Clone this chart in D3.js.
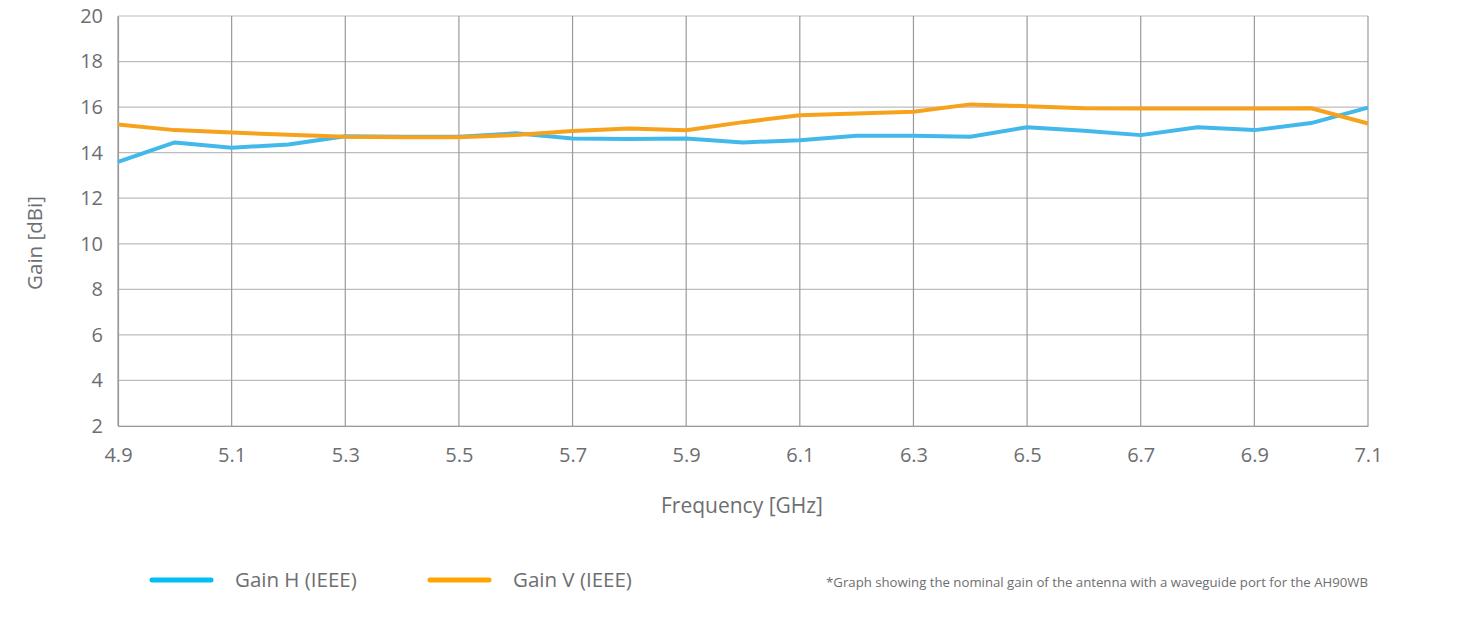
<!DOCTYPE html>
<html><head><meta charset="utf-8">
<script src="https://cdn.jsdelivr.net/npm/d3@7"></script>
<style>body{margin:0;background:#fff;} svg{display:block;font-family:"Open Sans",sans-serif;}</style>
</head><body>
<svg id="chart" width="1462" height="636"></svg>
<script>
const freqs = [4.9,5.0,5.1,5.2,5.3,5.4,5.5,5.6,5.7,5.8,5.9,6.0,6.1,6.2,6.3,6.4,6.5,6.6,6.7,6.8,6.9,7.0,7.1];
const gainH = [13.6,14.45,14.22,14.36,14.72,14.7,14.7,14.85,14.62,14.6,14.62,14.45,14.55,14.74,14.74,14.7,15.12,14.96,14.77,15.12,14.99,15.3,15.98];
const gainV = [15.24,14.99,14.88,14.79,14.7,14.68,14.68,14.78,14.95,15.06,14.98,15.34,15.64,15.72,15.8,16.12,16.04,15.95,15.94,15.94,15.94,15.95,15.28];
const xTicks = [4.9,5.1,5.3,5.5,5.7,5.9,6.1,6.3,6.5,6.7,6.9,7.1];
const yTicks = [2,4,6,8,10,12,14,16,18,20];
const seriesNames = ["Gain H (IEEE)","Gain V (IEEE)"];

const svg = d3.select("#chart");
const x = d3.scaleLinear().domain([4.9,7.1]).range([118,1368]);
const y = d3.scaleLinear().domain([2,20]).range([426,16]);
const textColor = "#6d6e71";

svg.append("g").selectAll("line").data(yTicks).join("line")
  .attr("x1",118).attr("x2",1368).attr("y1",d=>y(d)).attr("y2",d=>y(d))
  .attr("stroke","#bdbdbd").attr("stroke-width",1.2);
svg.append("g").selectAll("line").data(xTicks).join("line")
  .attr("x1",d=>x(d)).attr("x2",d=>x(d)).attr("y1",16).attr("y2",426)
  .attr("stroke","#9a9a9a").attr("stroke-width",1.2);

const yAxis = svg.append("g").attr("transform","translate(118,0)")
  .call(d3.axisLeft(y).tickValues(yTicks).tickSize(0).tickPadding(15).tickFormat(d3.format("d")));
yAxis.select(".domain").attr("stroke","#9a9a9a").attr("stroke-width",1.2);
yAxis.selectAll("text").attr("fill",textColor).attr("font-size",20).attr("font-family","Open Sans");
const xAxis = svg.append("g").attr("transform","translate(0,426)")
  .call(d3.axisBottom(x).tickValues(xTicks).tickSize(0).tickPadding(22).tickFormat(d3.format(".1f")));
xAxis.select(".domain").attr("stroke","#9a9a9a").attr("stroke-width",1.2);
xAxis.selectAll("text").attr("fill",textColor).attr("font-size",20).attr("font-family","Open Sans");

const colors = ["#42b9ea","#f7a21c"];
const line = d3.line().x((d,i)=>x(freqs[i])).y(d=>y(d)).curve(d3.curveLinear);
svg.append("path").datum(gainH).attr("d",line).attr("fill","none")
  .attr("stroke",colors[0]).attr("stroke-width",4).attr("stroke-linejoin","round");
svg.append("path").datum(gainV).attr("d",line).attr("fill","none")
  .attr("stroke",colors[1]).attr("stroke-width",4).attr("stroke-linejoin","round");

svg.append("text").attr("x",742).attr("y",513).attr("text-anchor","middle")
  .attr("fill",textColor).attr("font-size",21).text("Frequency [GHz]");
svg.append("text").attr("transform","translate(42,243) rotate(-90)").attr("text-anchor","middle")
  .attr("fill",textColor).attr("font-size",20.5).text("Gain [dBi]");

const legColors = ["#00bdf2","#ffa400"];
const legX = [150,428];
seriesNames.forEach((n,i)=>{
  svg.append("line").attr("x1",legX[i]+2).attr("x2",legX[i]+61).attr("y1",580).attr("y2",580)
    .attr("stroke",legColors[i]).attr("stroke-width",5).attr("stroke-linecap","round");
  svg.append("text").attr("x",legX[i]+85).attr("y",587).attr("fill",textColor)
    .attr("font-size",20.5).text(n);
});
svg.append("text").attr("x",1368).attr("y",587).attr("text-anchor","end")
  .attr("fill",textColor).attr("font-size",13.2)
  .text("*Graph showing the nominal gain of the antenna with a waveguide port for the AH90WB");
</script>
</body></html>
